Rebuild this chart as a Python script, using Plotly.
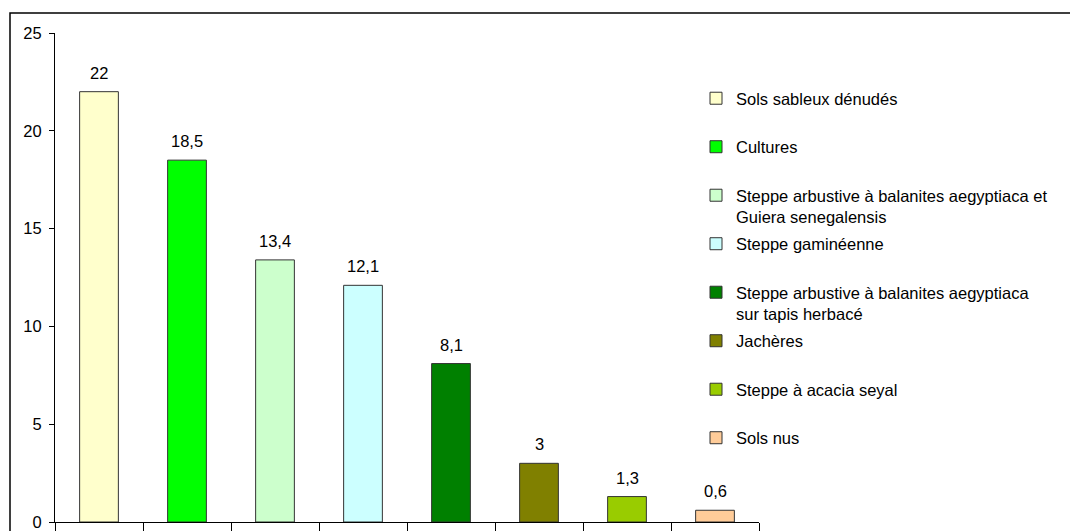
import plotly.graph_objects as go

categories = [
    "Sols sableux dénudés",
    "Cultures",
    "Steppe arbustive à balanites aegyptiaca et<br>Guiera senegalensis",
    "Steppe gaminéenne",
    "Steppe arbustive à balanites aegyptiaca<br>sur tapis herbacé",
    "Jachères",
    "Steppe à acacia seyal",
    "Sols nus",
]
values = [22, 18.5, 13.4, 12.1, 8.1, 3, 1.3, 0.6]
colors = ["#FFFFCC", "#00FF00", "#CCFFCC", "#CCFFFF", "#008000", "#808000", "#99CC00", "#FFCC99"]
y_ticks = [0, 5, 10, 15, 20, 25]

W, H = 1070, 531
L, R, T, B = 55, 759, 33, 522
FONT = dict(family="Liberation Sans, Arial, sans-serif", size=16.5, color="#000000")

fig = go.Figure()
for i, (c, v, col) in enumerate(zip(categories, values, colors)):
    name = c if "<br>" in c else c + "<br> "
    fig.add_trace(go.Bar(
        x=[i], y=[v], name=name, legendgroup=str(i),
        marker=dict(color=col, line=dict(color="#333333", width=1)),
        width=0.44, hoverinfo="skip",
    ))

annotations = []
for i, v in enumerate(values):
    annotations.append(dict(
        x=i, y=v, xref="x", yref="y", text=str(v).replace(".", ","),
        showarrow=False, yanchor="bottom", yshift=8, font=FONT,
    ))

fig.update_layout(
    width=W, height=H,
    margin=dict(l=L, r=W - R, t=T, b=H - B, pad=0),
    paper_bgcolor="white", plot_bgcolor="white",
    font=FONT,
    showlegend=True,
    barmode="overlay",
    legend=dict(
        x=(696 - L) / (R - L), xanchor="left",
        y=(B - 81) / (B - T), yanchor="top",
        font=FONT, valign="top", tracegroupgap=2.6,
        bgcolor="rgba(0,0,0,0)", traceorder="grouped",
    ),
    annotations=annotations,
    xaxis=dict(
        range=[-0.5, len(values) - 0.5], tickmode="array",
        tickvals=[i - 0.5 for i in range(len(values) + 1)],
        showticklabels=False, ticks="outside", ticklen=9, tickcolor="black",
        showline=True, linecolor="black", linewidth=1, showgrid=False, zeroline=False,
        fixedrange=True, automargin=False,
    ),
    yaxis=dict(
        range=[0, 25], tickvals=y_ticks, ticks="outside", ticklen=5, tickcolor="black",
        showline=True, linecolor="black", linewidth=1, showgrid=False, zeroline=False,
        tickfont=FONT, ticklabelstandoff=4, automargin=False,
    ),
    shapes=[dict(
        type="rect", xref="paper", yref="paper",
        x0=(10 - L) / (R - L), x1=2, y0=-1, y1=(B - 13) / (B - T),
        line=dict(color="black", width=1.5), fillcolor="rgba(0,0,0,0)", layer="below",
    )],
)

fig.write_html(
    "out.html",
    config={"displayModeBar": False},
    post_script="document.body.style.margin='0';document.body.style.overflow='hidden';",
)
